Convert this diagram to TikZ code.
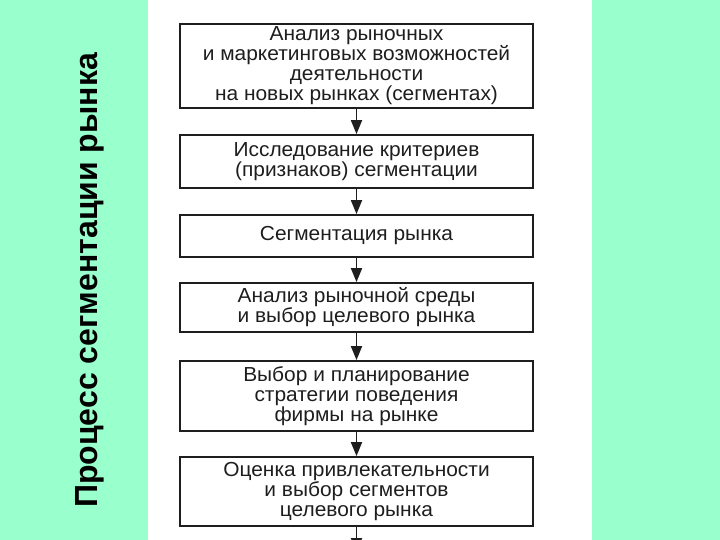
\documentclass[tikz,border=0pt]{standalone}
\usepackage{fontspec}
\setmainfont{Liberation Sans}
\newfontfamily\boxfont[FakeStretch=1.03]{Liberation Sans}
\usetikzlibrary{arrows.meta}
\definecolor{mint}{RGB}{153,255,204}
\definecolor{ink}{RGB}{30,30,30}
\begin{document}
\begin{tikzpicture}[x=1pt,y=-1pt,
  stage/.style={draw=ink, line width=1.8pt, fill=white, minimum width=353pt,
    inner sep=0pt, align=center, text=ink, font=\boxfont\fontsize{20.3}{20}\selectfont},
  flow/.style={draw=ink, line width=1.8pt, -{Triangle[length=14pt,width=11pt]}}]
\clip (0,0) rectangle (720,540);
\fill[mint] (0,0) rectangle (720,540);
\fill[white] (148,0) rectangle (592,540);
\node[rotate=90, anchor=base west, inner sep=0pt, text=black,
  font=\bfseries\fontsize{32}{34}\selectfont] (title) at (97,508) {Процесс сегментации рынка};
\node[stage, minimum height=84pt] (s1) at (356.5,66)
  {Анализ рыночных\\ и маркетинговых возможностей\\ деятельности\\ на новых рынках (сегментах)};
\node[stage, minimum height=53pt] (s2) at (356.5,161.5)
  {Исследование критериев\\ (признаков) сегментации};
\node[stage, minimum height=42pt] (s3) at (356.5,236)
  {Сегментация рынка};
\node[stage, minimum height=49pt] (s4) at (356.5,307.5)
  {Анализ рыночной среды\\ и выбор целевого рынка};
\node[stage, minimum height=70pt] (s5) at (356.5,396)
  {Выбор и планирование\\ стратегии поведения\\ фирмы на рынке};
\node[stage, minimum height=69pt] (s6) at (356.5,491.5)
  {Оценка привлекательности\\ и выбор сегментов\\ целевого рынка};
\coordinate (next) at (356.5,552);
\draw[flow] (s1) -- (s2);
\draw[flow] (s2) -- (s3);
\draw[flow] (s3) -- (s4);
\draw[flow] (s4) -- (s5);
\draw[flow] (s5) -- (s6);
\draw[flow] (s6) -- (next);
\end{tikzpicture}
\end{document}
